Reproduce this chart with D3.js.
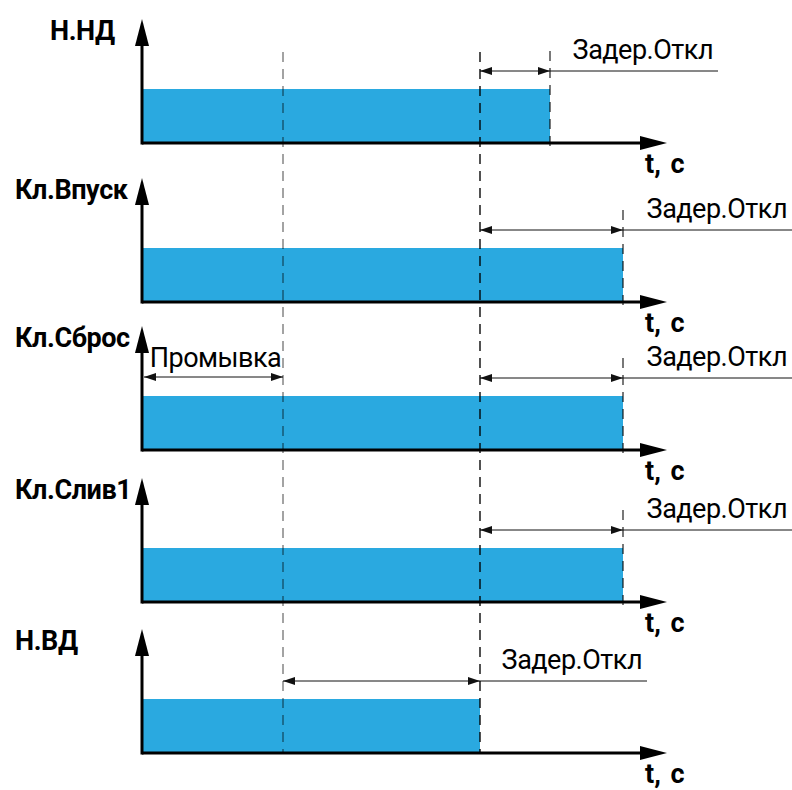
<!DOCTYPE html>
<html><head><meta charset="utf-8">
<script src="https://cdn.jsdelivr.net/npm/d3@7"></script>
<style>
html,body{margin:0;padding:0;background:#fff;}
svg{display:block;font-family:Roboto,"Liberation Sans",sans-serif;}
</style></head>
<body>
<svg id="chart" width="792" height="790"></svg>
<script>
// ---- data ----
const signals      = ["Н.НД", "Кл.Впуск", "Кл.Сброс", "Кл.Слив1", "Н.ВД"];
const onTimes      = [0, 0, 0, 0, 0];
const offTimes     = [408, 481, 481, 481, 338];
const delayStart   = [338, 338, 338, 338, 141];
const delayLabels  = ["Задер.Откл", "Задер.Откл", "Задер.Откл", "Задер.Откл", "Задер.Откл"];
const leaderEnd    = [576, 650, 650, 650, 505];
const flushLabel   = "Промывка";
const flushPanel   = 2;
const flushEnd     = 141;
const axisLabel    = "t, c";
const timeMax      = 525;
const markerTimes  = [141, 338];   // long dashed guide lines

// ---- layout ----
const axisY   = [143, 302, 450, 602, 753];
const labelX  = [50, 15, 15, 15, 15];
const blue = "#2aa9e0";

const svg = d3.select("#chart");
const x = d3.scaleLinear().domain([0, timeMax]).range([142, 667]);

const defs = svg.append("defs");
defs.append("marker").attr("id", "dimArrow")
  .attr("viewBox", "0 0 12 8").attr("refX", 12).attr("refY", 4)
  .attr("markerWidth", 12).attr("markerHeight", 8).attr("markerUnits", "userSpaceOnUse")
  .attr("orient", "auto-start-reverse")
  .append("path").attr("d", "M0,0L12,4L0,8Z").attr("fill", "#111");

const panels = svg.selectAll("g.panel").data(signals).join("g")
  .attr("class", "panel")
  .attr("transform", (d, i) => `translate(0,${axisY[i]})`);

// bars
panels.append("rect")
  .attr("x", (d, i) => x(onTimes[i]) + 1)
  .attr("y", -54)
  .attr("width", (d, i) => x(offTimes[i]) - x(onTimes[i]) - 1)
  .attr("height", 54)
  .attr("fill", blue);

// long guide lines
const yTop = 52, yBot = axisY[axisY.length - 1];
markerTimes.forEach((t, k) => {
  svg.append("line")
    .attr("x1", x(t)).attr("x2", x(t)).attr("y1", yTop).attr("y2", yBot)
    .attr("stroke", "#000").attr("stroke-opacity", k === 0 ? 0.45 : 0.85)
    .attr("stroke-width", 1.6).attr("stroke-dasharray", "10,7");
});

// short end dashes at off time (where not on a long guide)
panels.filter((d, i) => !markerTimes.includes(offTimes[i]))
  .append("line")
  .attr("x1", (d, i) => x(offTimes[i])).attr("x2", (d, i) => x(offTimes[i]))
  .attr("y1", -92).attr("y2", 6)
  .attr("stroke", "#000").attr("stroke-opacity", 0.75)
  .attr("stroke-width", 1.4).attr("stroke-dasharray", "10,7");

// axes
panels.append("line")
  .attr("x1", x(0)).attr("x2", x(timeMax) - 20).attr("y1", 0).attr("y2", 0)
  .attr("stroke", "#000").attr("stroke-width", 3);
panels.append("path")
  .attr("d", `M${x(timeMax) - 27},-7L${x(timeMax)},0L${x(timeMax) - 27},7Z`)
  .attr("fill", "#000");
panels.append("line")
  .attr("x1", x(0)).attr("x2", x(0)).attr("y1", 1.5).attr("y2", -100)
  .attr("stroke", "#000").attr("stroke-width", 3);
panels.append("path")
  .attr("d", `M${x(0) - 7},-97L${x(0)},-124L${x(0) + 7},-97Z`)
  .attr("fill", "#000");

// labels
panels.append("text")
  .attr("x", (d, i) => labelX[i]).attr("y", -103)
  .attr("font-size", 27).attr("font-weight", "bold").attr("fill", "#000")
  .attr("letter-spacing", -0.4)
  .text(d => d);
panels.append("text")
  .attr("x", 645).attr("y", 30)
  .attr("font-size", 27).attr("font-weight", "bold").attr("fill", "#000")
  .attr("word-spacing", 3)
  .text(axisLabel);

// delay dimension
panels.append("line")
  .attr("x1", (d, i) => x(delayStart[i])).attr("x2", (d, i) => x(offTimes[i]))
  .attr("y1", -72).attr("y2", -72)
  .attr("stroke", "#111").attr("stroke-width", 1)
  .attr("marker-start", "url(#dimArrow)").attr("marker-end", "url(#dimArrow)");
panels.append("line")
  .attr("x1", (d, i) => x(offTimes[i])).attr("x2", (d, i) => x(leaderEnd[i]))
  .attr("y1", -72).attr("y2", -72)
  .attr("stroke", "#111").attr("stroke-width", 1);
panels.append("text")
  .attr("x", (d, i) => x(leaderEnd[i]) - 5).attr("y", -84)
  .attr("text-anchor", "end")
  .attr("font-size", 27).attr("fill", "#000").attr("letter-spacing", -0.5)
  .text((d, i) => delayLabels[i]);

// flush dimension
const fp = panels.filter((d, i) => i === flushPanel);
fp.append("line")
  .attr("x1", x(0) + 2).attr("x2", x(flushEnd))
  .attr("y1", -73).attr("y2", -73)
  .attr("stroke", "#111").attr("stroke-width", 1)
  .attr("marker-start", "url(#dimArrow)").attr("marker-end", "url(#dimArrow)");
fp.append("text")
  .attr("x", (x(0) + x(flushEnd)) / 2 + 3).attr("y", -83)
  .attr("text-anchor", "middle")
  .attr("font-size", 27).attr("fill", "#000").attr("letter-spacing", -0.5)
  .text(flushLabel);
</script>
</body></html>
